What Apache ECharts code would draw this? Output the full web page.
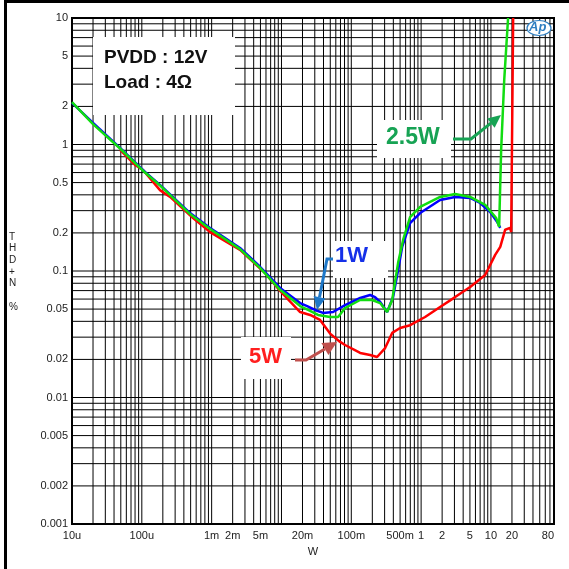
<!DOCTYPE html>
<html>
<head>
<meta charset="utf-8">
<script src="https://cdn.jsdelivr.net/npm/echarts@6/dist/echarts.min.js"></script>
<style>
  html, body { margin: 0; padding: 0; background: #fff; }
  #chart { width: 569px; height: 569px; }
</style>
</head>
<body>
<div id="chart"></div>
<script>
// axis ranges and tick labels
var xMin = 1e-5, xMax = 80, yMin = 0.001, yMax = 10;
var xTickValues = [1e-5, 1e-4, 1e-3, 2e-3, 5e-3, 0.02, 0.1, 0.5, 1, 2, 5, 10, 20, 80];
var xTickLabels = ['10u', '100u', '1m', '2m', '5m', '20m', '100m', '500m', '1', '2', '5', '10', '20', '80'];
var yTickValues = [0.001, 0.002, 0.005, 0.01, 0.02, 0.05, 0.1, 0.2, 0.5, 1, 2, 5, 10];
var yTickLabels = ['0.001', '0.002', '0.005', '0.01', '0.02', '0.05', '0.1', '0.2', '0.5', '1', '2', '5', '10'];

// 1W curve (blue)
var power1W = [1e-5, 2.0e-5, 4.88e-5, 1.11e-4, 1.82e-4, 4.91e-4, 9.5e-4, 2.55e-3, 4.93e-3, 9.55e-3, 0.0185, 0.0233, 0.0303, 0.0394, 0.0548, 0.0815, 0.134, 0.186, 0.219, 0.259, 0.326, 0.397, 0.468, 0.535, 0.695, 0.968, 1.87, 3.07, 5.04, 7.0, 9.75, 12.3, 13.6];
var thd1W = [2.13, 1.48, 0.938, 0.607, 0.479, 0.287, 0.219, 0.152, 0.108, 0.0735, 0.0558, 0.0528, 0.0492, 0.0466, 0.0474, 0.0538, 0.0612, 0.0646, 0.0622, 0.0569, 0.0474, 0.0622, 0.102, 0.155, 0.239, 0.287, 0.364, 0.385, 0.378, 0.345, 0.292, 0.244, 0.219];

// 2.5W curve (green)
var power25W = [1e-5, 2.0e-5, 4.88e-5, 1.11e-4, 1.82e-4, 4.91e-4, 9.5e-4, 2.55e-3, 4.93e-3, 9.55e-3, 0.0185, 0.0257, 0.0334, 0.0497, 0.0647, 0.0815, 0.134, 0.199, 0.259, 0.326, 0.385, 0.468, 0.552, 0.695, 0.968, 1.87, 3.07, 5.04, 8.26, 11.9, 13.1, 14.0, 15.5, 17.6];
var thd25W = [2.16, 1.45, 0.93, 0.60, 0.475, 0.282, 0.215, 0.149, 0.106, 0.071, 0.0528, 0.0483, 0.0449, 0.0433, 0.0433, 0.051, 0.059, 0.059, 0.0558, 0.0474, 0.059, 0.116, 0.176, 0.267, 0.321, 0.385, 0.406, 0.385, 0.333, 0.262, 0.223, 0.905, 3.24, 10];

// 5W curve (red)
var power5W = [4.88e-5, 8.0e-5, 1.04e-4, 1.82e-4, 2.54e-4, 5.42e-4, 9.5e-4, 2.55e-3, 5.82e-3, 9.55e-3, 0.0185, 0.0257, 0.0357, 0.0497, 0.0692, 0.0815, 0.134, 0.186, 0.234, 0.305, 0.385, 0.5, 0.695, 1.14, 1.87, 3.07, 5.04, 8.26, 11.5, 13.6, 16.0, 18.8, 19.5, 20.8];
var thd5W = [0.905, 0.689, 0.628, 0.436, 0.385, 0.262, 0.203, 0.147, 0.0964, 0.0695, 0.0474, 0.0449, 0.041, 0.032, 0.0275, 0.026, 0.0225, 0.0217, 0.0209, 0.0246, 0.0324, 0.0354, 0.0373, 0.0433, 0.0519, 0.0622, 0.0748, 0.0929, 0.134, 0.155, 0.212, 0.219, 0.203, 10];

function pairs(xs, ys) {
  return xs.map(function (x, i) { return [x, ys[i]]; });
}

// log grid: 1..9 in every decade
function logGrid(fromExp, toExp, maxVal) {
  var out = [];
  for (var k = fromExp; k <= toExp; k++) {
    for (var m = 1; m <= 9; m++) {
      var v = Number((m * Math.pow(10, k)).toPrecision(3));
      if (v <= maxVal) out.push(v);
    }
  }
  return out;
}
var xGrid = logGrid(-5, 1, xMax);
var yGrid = logGrid(-3, 1, yMax);

// grid lines as broken line series ('-' breaks the path)
var vLines = [], hLines = [];
xGrid.forEach(function (v) { vLines.push([v, yMin], [v, yMax], [v, '-']); });
yGrid.forEach(function (v) { hLines.push([xMin, v], [xMax, v], [xMin, '-']); });

function labelFor(values, labels) {
  return function (v) {
    for (var i = 0; i < values.length; i++) {
      if (Math.abs(Math.log10(v) - Math.log10(values[i])) < 0.005) return labels[i];
    }
    return '';
  };
}

// arrow = polyline + triangle head at the last point
function arrow(pts, color, width, headLen, headHalf) {
  var n = pts.length;
  var tip = pts[n - 1], prev = pts[n - 2];
  var dx = tip[0] - prev[0], dy = tip[1] - prev[1];
  var len = Math.sqrt(dx * dx + dy * dy);
  var ux = dx / len, uy = dy / len;
  var bx = tip[0] - ux * headLen, by = tip[1] - uy * headLen;
  var line = pts.slice(0, n - 1).concat([[bx, by]]);
  return [{
    type: 'polyline', z: 100,
    shape: { points: line },
    style: { stroke: color, lineWidth: width, fill: null }
  }, {
    type: 'polygon', z: 100,
    shape: { points: [tip, [bx - uy * headHalf, by + ux * headHalf], [bx + uy * headHalf, by - ux * headHalf]] },
    style: { fill: color }
  }];
}

var font = '"Liberation Sans", Arial, sans-serif';
var chart = echarts.init(document.getElementById('chart'));

var graphics = [
  { type: 'rect', z: 100, shape: { x: 5.5, y: 1.5, width: 600, height: 600 }, style: { fill: null, stroke: '#000', lineWidth: 3 } },
  { type: 'rect', z: 100, shape: { x: 93, y: 37, width: 142, height: 78 }, style: { fill: '#fff' } },
  { type: 'text', z: 101, left: 104, top: 45, style: { text: 'PVDD : 12V\nLoad : 4Ω', font: 'bold 19px ' + font, fill: '#111', lineHeight: 25 } },
  { type: 'rect', z: 100, shape: { x: 377, y: 120, width: 74, height: 38 }, style: { fill: '#fff' } },
  { type: 'text', z: 101, left: 386, top: 126, style: { text: '2.5W', font: 'bold 23px ' + font, fill: '#17a354' } },
  { type: 'rect', z: 100, shape: { x: 333, y: 241, width: 55, height: 37 }, style: { fill: '#fff' } },
  { type: 'text', z: 101, left: 335, top: 245, style: { text: '1W', font: 'bold 22px ' + font, fill: '#1530e8' } },
  { type: 'rect', z: 100, shape: { x: 241, y: 337, width: 50, height: 42 }, style: { fill: '#fff' } },
  { type: 'text', z: 101, left: 249, top: 346, style: { text: '5W', font: 'bold 22px ' + font, fill: '#ff1f1f' } },
  { type: 'text', z: 101, left: 9, top: 231, style: { text: 'T\nH\nD\n+\nN\n\n%', font: '10px ' + font, fill: '#222', lineHeight: 11.7, align: 'center' } },
  { type: 'ellipse', z: 101, shape: { cx: 539, cy: 28, rx: 12, ry: 7.5 }, style: { fill: '#fff', stroke: '#2f7fc1', lineWidth: 1.2 } },
  { type: 'text', z: 102, left: 529, top: 21, style: { text: 'Ap', font: 'italic bold 13px ' + font, fill: '#2f7fc1' } }
];
graphics = graphics
  .concat(arrow([[453, 139], [471, 139], [501, 115]], '#17a354', 3, 13, 6))
  .concat(arrow([[333, 259], [327, 259], [317, 310]], '#1f78c8', 3, 13, 6))
  .concat(arrow([[295, 360], [306, 360], [337, 342]], '#c0504d', 3, 14, 7));

var gridLineStyle = { color: '#000', width: 1 };

var option = {
  animation: false,
  backgroundColor: '#fff',
  grid: { left: 72, right: 15, top: 18, bottom: 45, show: true, borderColor: '#000', borderWidth: 2, backgroundColor: '#fff' },
  xAxis: {
    type: 'log', min: xMin, max: xMax,
    name: 'W', nameLocation: 'middle', nameGap: 22,
    nameTextStyle: { fontSize: 11, color: '#222', fontFamily: font },
    axisLine: { show: false }, axisTick: { show: false }, splitLine: { show: false },
    axisLabel: {
      customValues: xTickValues, formatter: labelFor(xTickValues, xTickLabels),
      fontSize: 11, color: '#222', fontFamily: font, margin: 6, alignMaxLabel: 'right'
    }
  },
  yAxis: {
    type: 'log', min: yMin, max: yMax,
    axisLine: { show: false }, axisTick: { show: false }, splitLine: { show: false },
    axisLabel: {
      customValues: yTickValues, formatter: labelFor(yTickValues, yTickLabels),
      fontSize: 11, color: '#222', fontFamily: font, margin: 4
    }
  },
  series: [{
    name: 'vgrid', type: 'line', z: 1, silent: true, symbol: 'none', connectNulls: false,
    data: vLines, lineStyle: gridLineStyle
  }, {
    name: 'hgrid', type: 'line', z: 1, silent: true, symbol: 'none', connectNulls: false,
    data: hLines, lineStyle: gridLineStyle
  }, {
    name: '5W', type: 'line', z: 3, symbol: 'none',
    data: pairs(power5W, thd5W), lineStyle: { color: '#ff0000', width: 2.5 }
  }, {
    name: '1W', type: 'line', z: 4, symbol: 'none',
    data: pairs(power1W, thd1W), lineStyle: { color: '#0000ff', width: 2.5 }
  }, {
    name: '2.5W', type: 'line', z: 5, symbol: 'none',
    data: pairs(power25W, thd25W), lineStyle: { color: '#11dd11', width: 2.5 }
  }],
  graphic: graphics
};
chart.setOption(option);
</script>
</body>
</html>
